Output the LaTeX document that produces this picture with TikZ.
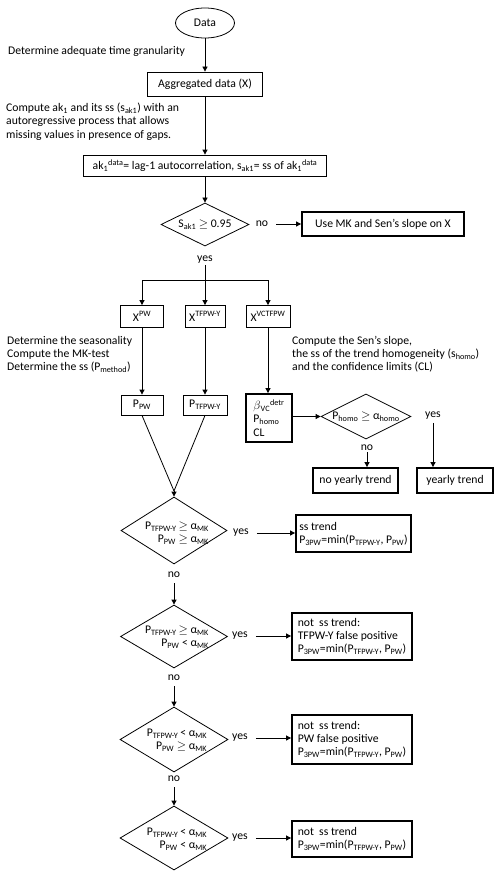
\documentclass[tikz,border=0pt]{standalone}
\usepackage{fontspec}
\setmainfont{Carlito}
\usetikzlibrary{arrows.meta,shapes.geometric}
\newcommand{\fsz}{\fontsize{11.7}{13.2}\selectfont}
\newcommand{\sbs}[1]{\textsubscript{#1}}
\newcommand{\sps}[1]{\textsuperscript{#1}}
\newcommand{\gge}{\ensuremath{\geq}}
\begin{document}
\begin{tikzpicture}[x=1pt,y=-1pt,
  every node/.style={font=\fsz},
  ln/.style={line width=0.8pt},
  arr/.style={line width=0.8pt,-{Triangle[length=5pt,width=5pt]}},
  bx/.style 2 args={draw,line width=0.8pt,minimum width=#1,minimum height=#2,inner sep=0pt,align=left},
  tbx/.style 2 args={draw,line width=1.8pt,minimum width=#1,minimum height=#2,inner sep=0pt,align=left},
  dia/.style 2 args={draw,diamond,line width=0.8pt,minimum width=#1,minimum height=#2,inner sep=0pt},
  txt/.style={inner sep=0pt,align=left},
  lab/.style={inner sep=1pt}
]
\useasboundingbox (0,0) rectangle (500,880);
% top
\node[draw,ellipse,line width=0.8pt,minimum width=59,minimum height=30,inner sep=0pt] (data) at (205,23) {Data};
\node[txt,anchor=west] (gran) at (8,51) {Determine adequate time granularity};
\node[bx={115}{24}] (agg) at (205,84) {Aggregated data (X)};
\draw[arr] (data) -- (agg);
\node[txt,anchor=north west] (comp) at (6,103) {Compute ak\sbs{1} and its ss (s\sbs{ak1}) with an\\autoregressive process that allows\\missing values in presence of gaps.};
\node[bx={243}{21}] (ak) at (205,165.5) {ak\sbs{1}\sps{data}= lag-1 autocorrelation, s\sbs{ak1}= ss of ak\sbs{1}\sps{data}};
\draw[arr] (agg) -- (ak);
\node[dia={88}{43}] (d0) at (205,224.5) {};
\node[txt] (d0t) at (d0.center) {S\sbs{ak1} \gge{} 0.95};
\draw[arr] (ak) -- (d0);
\node[lab] (no0) at (262,224) {no};
\node[tbx={162}{24}] (mk) at (383,224) {Use MK and Sen’s slope on X};
\draw[arr] ([xshift=7pt]no0.east) -- (no0.east -| mk.west);
\node[lab] (yes0) at (205,260) {yes};
\coordinate (split) at (205,280);
\draw[ln] (yes0.south) -- (split);
% X boxes
\node[bx={43}{22}] (xpw) at (142,316.5) {X\sps{PW}};
\node[bx={40}{22}] (xtf) at (205,316.5) {X\sps{TFPW-Y}};
\node[bx={44}{22}] (xvc) at (268,316.5) {X\sps{VCTFPW}};
\draw[arr] (split) -- (xtf);
\draw[arr] (split) -| (xpw);
\draw[arr] (split) -| (xvc);
\node[txt,anchor=north west] (seas) at (7,336) {Determine the seasonality\\Compute the MK-test\\Determine the ss (P\sbs{method})};
\node[txt,anchor=north west] (sen) at (292,336) {Compute the Sen’s slope,\\the ss of the trend homogeneity (s\sbs{homo})\\and the confidence limits (CL)};
% P boxes
\node[bx={42}{20}] (ppw) at (142,405) {P\sbs{PW}};
\node[bx={44}{20}] (ptf) at (205,405) {P\sbs{TFPW-Y}};
\node[tbx={46}{48}] (beta) at (269,418) {\(\beta\)\sbs{VC}\sps{detr}\\P\sbs{homo}\\CL};
\draw[arr] (xpw) -- (ppw);
\draw[arr] (xtf) -- (ptf);
\draw[arr] (xvc.south) -- (xvc.south |- beta.north);
% homogeneity
\node[dia={90}{45}] (dh) at (366,416.5) {};
\node[txt] (dht) at (dh.center) {P\sbs{homo} \gge{} α\sbs{homo}};
\draw[arr] (beta.east |- dh.west) -- (dh.west);
\node[lab] (yesh) at (433,416) {yes};
\node[lab] (noh) at (367,448) {no};
\node[tbx={85}{25}] (noyr) at (355.5,480.5) {no yearly trend};
\node[tbx={76}{25}] (yr) at (455,480.5) {yearly trend};
\draw[arr] (noh.south) -- (noh.south |- noyr.north);
\draw[arr] ([yshift=-2pt]yesh.south) -- (yesh.south |- yr.north);
% decision chain
\node[dia={106}{67}] (m1) at (174,530.5) {};
\coordinate (mj) at (174,491);
\draw[ln] (ppw.south) -- (mj);
\draw[ln] (ptf.south) -- (mj);
\draw[arr] (mj) -- (m1.north);
\node[txt,align=right] (m1t) at (177,533) {P\sbs{TFPW-Y}\,\gge{} α\sbs{MK}\\P\sbs{PW} \gge{} α\sbs{MK}};
\node[lab] (yes1) at (241,533) {yes};
\node[tbx={115}{37}] (b1) at (353.5,533.5) {ss trend\\P\sbs{3PW}=min(P\sbs{TFPW-Y}, P\sbs{PW})};
\draw[arr] ([xshift=7pt]yes1.east) -- (yes1.east -| b1.west);
\node[lab] (no1) at (174,575) {no};
\node[dia={107}{63}] (m2) at (174,636.5) {};
\node[txt,align=right] (m2t) at (177,637) {P\sbs{TFPW-Y}\,\gge{} α\sbs{MK}\\P\sbs{PW} < α\sbs{MK}};
\draw[arr] ([yshift=-4pt]no1.south) -- (m2.north);
\node[lab] (yes2) at (240,636) {yes};
\node[tbx={120}{47}] (b2) at (352,636.5) {not\hspace{0.45em}ss trend:\\TFPW-Y false positive\\P\sbs{3PW}=min(P\sbs{TFPW-Y}, P\sbs{PW})};
\draw[arr] ([xshift=7pt]yes2.east) -- (yes2.east -| b2.west);
\node[lab] (no2) at (174,678) {no};
\node[dia={108}{65}] (m3) at (174,739.5) {};
\node[txt,align=right] (m3t) at (177,740) {P\sbs{TFPW-Y}\,< α\sbs{MK}\\P\sbs{PW} \gge{} α\sbs{MK}};
\draw[arr] ([yshift=-4pt]no2.south) -- (m3.north);
\node[lab] (yes3) at (240,738) {yes};
\node[tbx={120}{49}] (b3) at (352,739.5) {not\hspace{0.45em}ss trend:\\PW false positive\\P\sbs{3PW}=min(P\sbs{TFPW-Y}, P\sbs{PW})};
\draw[arr] ([xshift=7pt]yes3.east) -- (yes3.east -| b3.west);
\node[lab] (no3) at (174,779) {no};
\node[dia={108}{64}] (m4) at (174,838) {};
\node[txt,align=right] (m4t) at (177,839) {P\sbs{TFPW-Y}\,< α\sbs{MK}\\P\sbs{PW} < α\sbs{MK}};
\draw[arr] ([yshift=-4pt]no3.south) -- (m4.north);
\node[lab] (yes4) at (240,838) {yes};
\node[tbx={120}{36}] (b4) at (352,839) {not\hspace{0.45em}ss trend\\P\sbs{3PW}=min(P\sbs{TFPW-Y}, P\sbs{PW})};
\draw[arr] ([xshift=7pt]yes4.east) -- (yes4.east -| b4.west);
\end{tikzpicture}
\end{document}
